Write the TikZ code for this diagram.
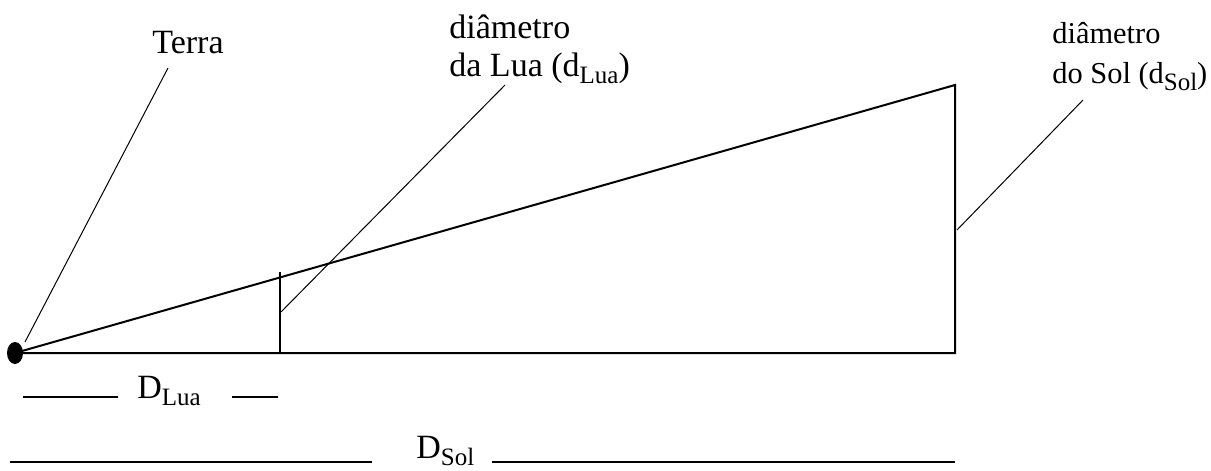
\documentclass[tikz,border=0pt]{standalone}
\usepackage{fontspec}
\setmainfont{Liberation Serif}
\usetikzlibrary{positioning,calc}
\newcommand{\lowsub}[1]{\raisebox{-3.5pt}{\fontsize{12.5}{12.5}\selectfont #1}}
\tikzset{
  lbl/.style={font=\fontsize{17}{19}\selectfont, inner sep=0pt, align=left},
  lblsmall/.style={font=\fontsize{15.2}{20}\selectfont, inner sep=0pt, align=left},
  main/.style={line width=1pt},
  leader/.style={line width=0.5pt}
}

\begin{document}
\begin{tikzpicture}[x=0.5pt,y=-0.5pt]
    \useasboundingbox (0,0) rectangle (1211,471);
    % triangle
    \coordinate (E) at (15,353);
    \coordinate (M) at (280,353);
    \coordinate (Mt) at (280,272);
    \coordinate (S) at (955,353);
    \coordinate (St) at (955,85);
    \draw[main] (E) -- (S) -- (St) -- cycle;
    \draw[main] (M) -- (Mt);
    \fill (E) ellipse [x radius=4pt, y radius=5.5pt];
    % labels
    \node[lbl, anchor=base] (terra) at (188,54) {Terra};
    \node[lbl, anchor=north west] (dlua) at (449,14) {diâmetro\\da Lua (d\lowsub{Lua})};
    \node[lblsmall, anchor=north west] (dsol) at (1052,22) {diâmetro\\do Sol (d\lowsub{Sol})};
    % leaders
    \coordinate (terra-a) at (25,342);
    \coordinate (terra-b) at (168,68);
    \coordinate (lua-a) at (281,312);
    \coordinate (lua-b) at (505,85);
    \coordinate (sol-a) at (957,230);
    \coordinate (sol-b) at (1083,100);
    \draw[leader] (terra-a) -- (terra-b);
    \draw[leader] (lua-a) -- (lua-b);
    \draw[leader] (sol-a) -- (sol-b);
    % distances
    \node[lbl, anchor=base west] (Dlua) at (137,398) {D\lowsub{Lua}};
    \node[lbl, anchor=base west] (Dsol) at (416,458) {D\lowsub{Sol}};
    \coordinate (la) at (23,397);
    \coordinate (lb) at (118,397);
    \coordinate (lc) at (232,397);
    \coordinate (ld) at (278,397);
    \coordinate (sa) at (10,462);
    \coordinate (sb) at (372,462);
    \coordinate (sc) at (492,462);
    \coordinate (sd) at (955,462);
    \draw[main] (la) -- (lb) (lc) -- (ld);
    \draw[main] (sa) -- (sb) (sc) -- (sd);
\end{tikzpicture}
\end{document}
